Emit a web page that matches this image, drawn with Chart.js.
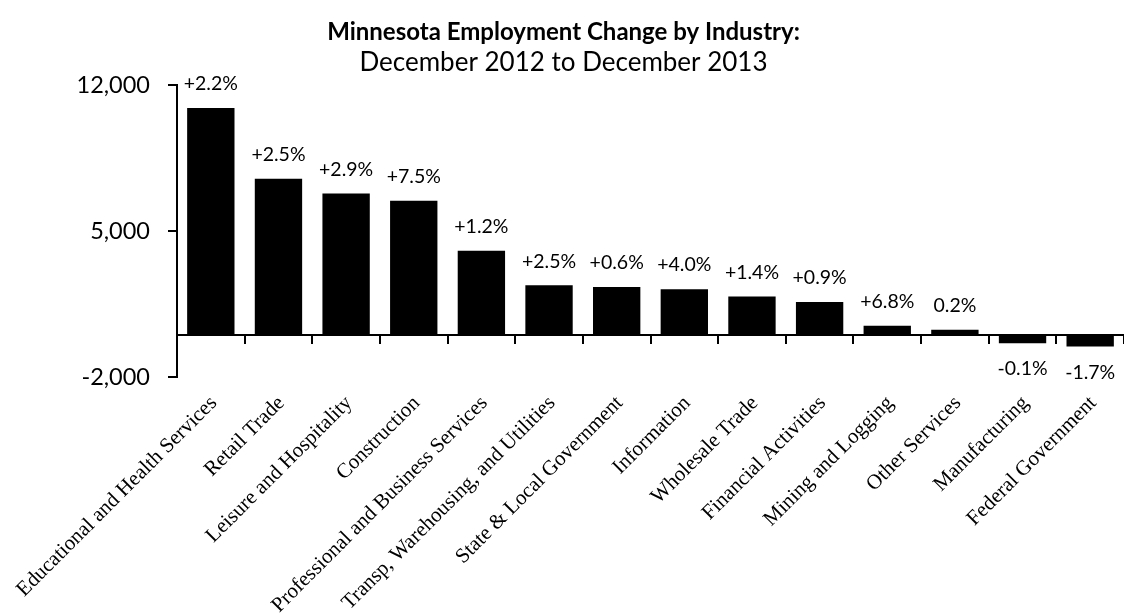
<!DOCTYPE html>
<html>
<head>
<meta charset="utf-8">
<script src="https://cdn.jsdelivr.net/npm/chart.js@4.4.1/dist/chart.umd.min.js"></script>
<style>
  html, body { margin: 0; padding: 0; background: #fff; overflow: hidden; }
  #wrap { width: 1124px; height: 614px; }
</style>
</head>
<body>
<div id="wrap"><canvas id="chart"></canvas></div>
<script>
// Employment change, Dec 2012 -> Dec 2013 (jobs)
const industries = [
    'Educational and Health Services', 'Retail Trade', 'Leisure and Hospitality',
    'Construction', 'Professional and Business Services',
    'Transp, Warehousing, and Utilities', 'State & Local Government', 'Information',
    'Wholesale Trade', 'Financial Activities', 'Mining and Logging',
    'Other Services', 'Manufacturing', 'Federal Government'
];
const jobChange = [10900, 7500, 6800, 6450, 4050, 2400, 2320, 2210, 1860, 1600, 460, 270, -380, -540];
const pctChange = ['+2.2%', '+2.5%', '+2.9%', '+7.5%', '+1.2%', '+2.5%', '+0.6%', '+4.0%',
    '+1.4%', '+0.9%', '+6.8%', '0.2%', '-0.1%', '-1.7%'];
const yTicks = [-2000, 5000, 12000];

const SANS = 'Lato, "Open Sans", sans-serif';
const SERIF = '"Liberation Serif", "Times New Roman", serif';

// percent labels above (or below) each bar
const pctLabelPlugin = {
    id: 'pctLabels',
    afterDatasetsDraw(chart) {
        const ctx = chart.ctx;
        const meta = chart.getDatasetMeta(0);
        ctx.save();
        ctx.font = '19.5px ' + SANS;
        ctx.fillStyle = '#000';
        ctx.textAlign = 'center';
        ctx.textBaseline = 'middle';
        meta.data.forEach((bar, i) => {
            const v = jobChange[i];
            const y = v >= 0 ? bar.y - 24 : bar.y + 26;
            ctx.fillText(pctChange[i], bar.x, y);
        });
        ctx.restore();
    }
};

const ctx = document.getElementById('chart').getContext('2d');
new Chart(ctx, {
    type: 'bar',
    data: {
        labels: industries,
        datasets: [{
            data: jobChange,
            backgroundColor: '#000',
            borderWidth: 0,
            barPercentage: 0.7,
            categoryPercentage: 1.0
        }]
    },
    options: {
        responsive: true,
        maintainAspectRatio: false,
        animation: false,
        layout: { padding: { left: -8, right: -11, top: 0, bottom: 0 } },
        plugins: {
            legend: { display: false },
            tooltip: { enabled: false },
            title: {
                display: true,
                text: 'Minnesota Employment Change by Industry:',
                color: '#000',
                font: { family: SANS, size: 24, weight: 'bold' },
                padding: { top: 18, bottom: 0 }
            },
            subtitle: {
                display: true,
                text: 'December 2012 to December 2013',
                color: '#000',
                font: { family: SANS, size: 26 },
                padding: { top: 0, bottom: 7 }
            }
        },
        scales: {
            x: {
                position: 'bottom',
                grid: { display: false },
                border: { display: false },
                ticks: {
                    color: '#000',
                    font: { family: SERIF, size: 21 },
                    minRotation: 45,
                    maxRotation: 45,
                    autoSkip: false,
                    padding: 6,
                    labelOffset: 3
                },
                afterFit(scale) { scale.height = 237; }
            },
            // axis line drawn through zero, with tick marks between bars
            x2: {
                type: 'category',
                position: { y: 0 },
                offset: true,
                grid: { offset: true, drawOnChartArea: false, drawTicks: true, tickLength: 8, color: '#000', lineWidth: 2 },
                border: { display: true, color: '#000', width: 2 },
                ticks: { display: false }
            },
            y: {
                min: -2000,
                max: 12000,
                afterBuildTicks(scale) { scale.ticks = yTicks.map(v => ({ value: v })); },
                afterFit(scale) { scale.width = 185; },
                grid: { drawOnChartArea: false, drawTicks: true, tickLength: 9, color: '#000', lineWidth: 2 },
                border: { display: true, color: '#000', width: 2 },
                ticks: {
                    color: '#000',
                    font: { family: SANS, size: 23.5 },
                    padding: 18,
                    callback: v => v.toLocaleString('en-US')
                }
            }
        }
    },
    plugins: [pctLabelPlugin]
});
</script>
</body>
</html>
